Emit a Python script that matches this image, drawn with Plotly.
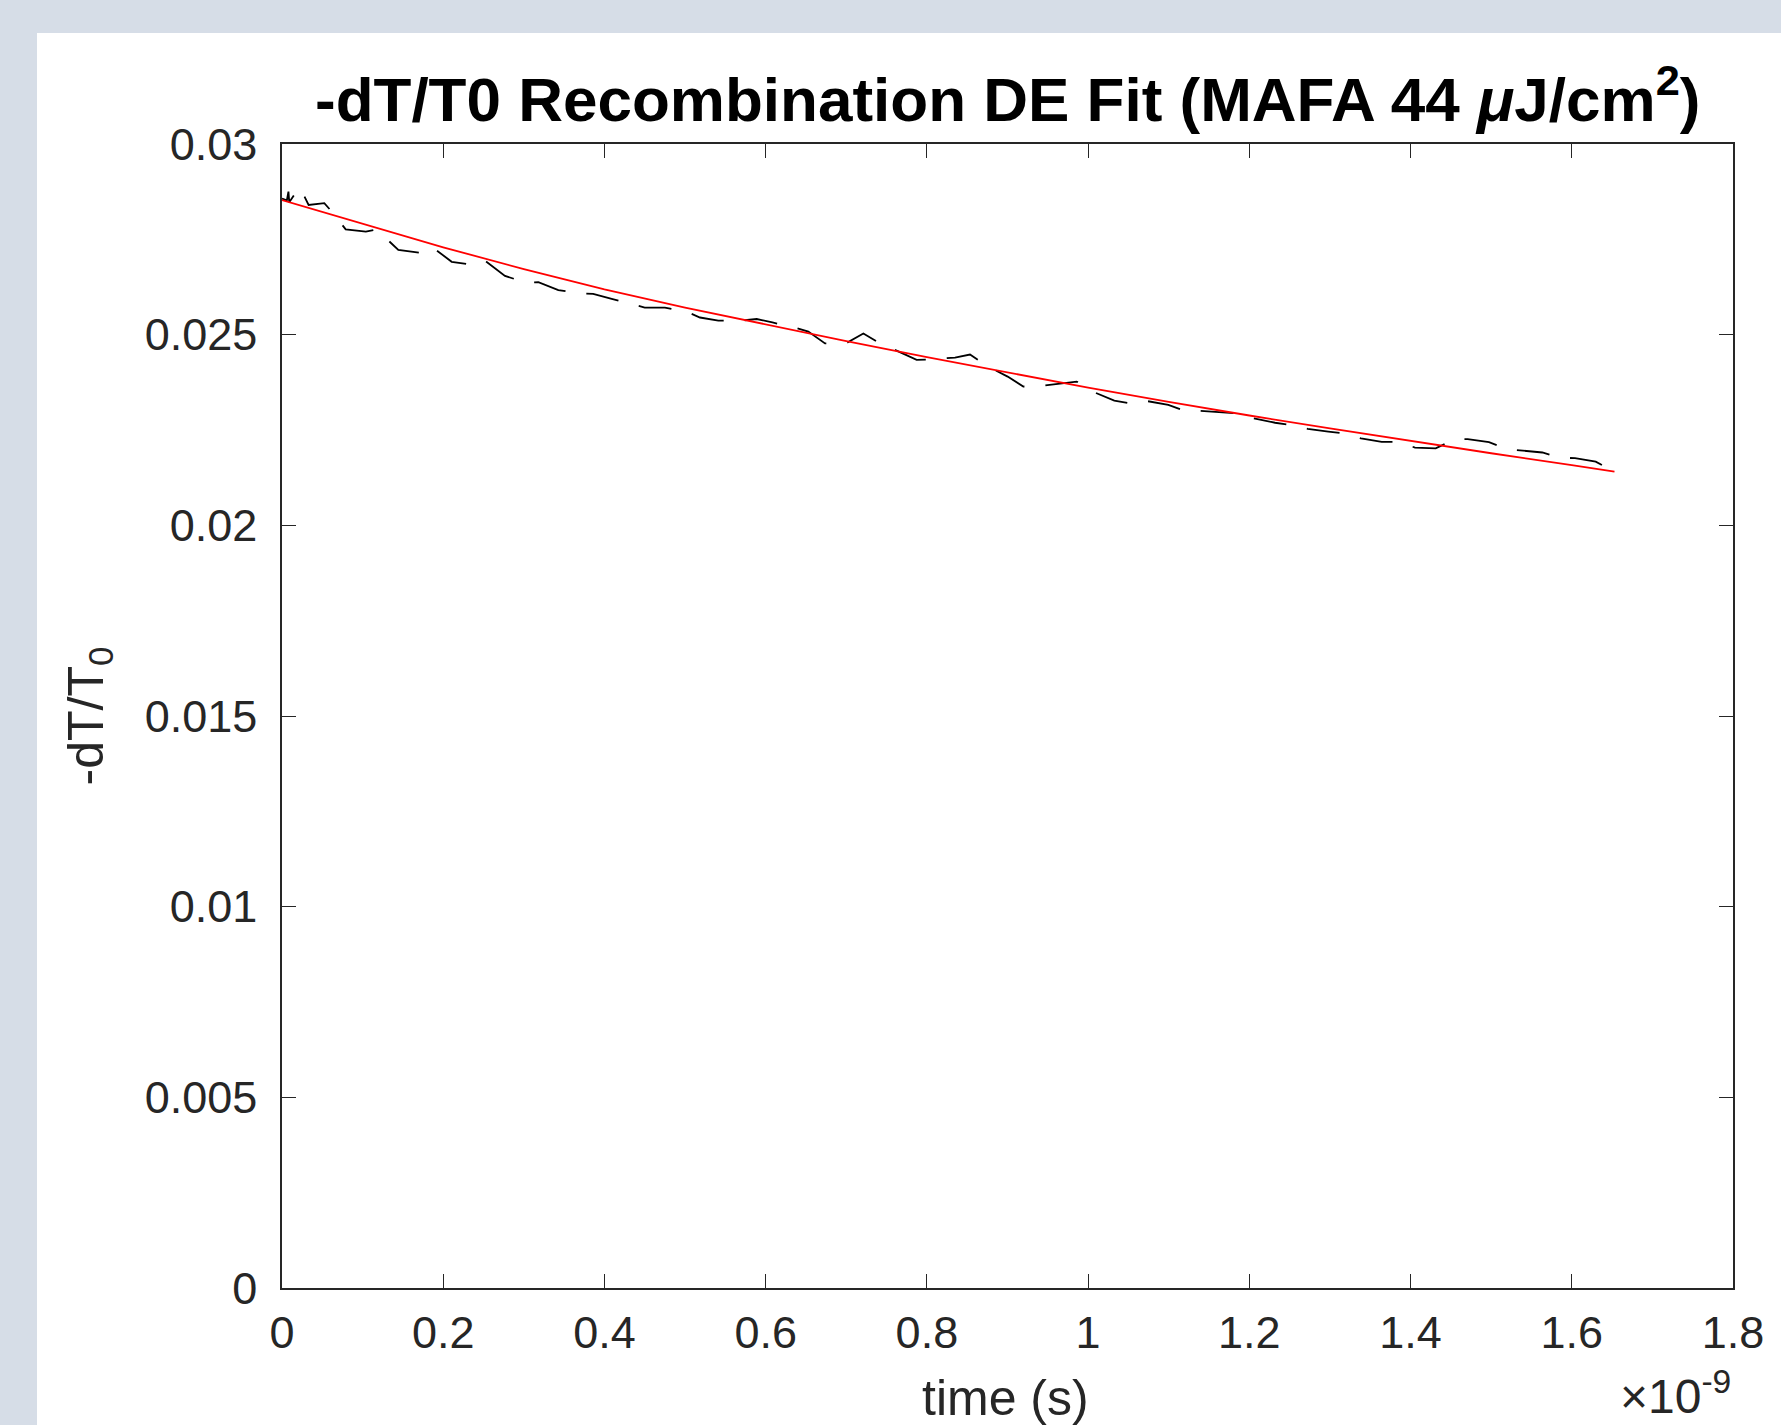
import numpy as np
import plotly.graph_objects as go

# ---------------- data ----------------
time_ns_data = [0.000, 0.006, 0.008, 0.009, 0.015, 0.019, 0.024, 0.027, 0.033, 0.0525,
                0.0637, 0.070, 0.079, 0.104, 0.1175, 0.1443, 0.170, 0.1857, 0.2105, 0.236,
                0.2518, 0.2766, 0.3035, 0.318, 0.3428, 0.3697, 0.386, 0.409, 0.4358, 0.450,
                0.475, 0.502, 0.5185, 0.5413, 0.5703, 0.5889, 0.6083, 0.6352, 0.6529, 0.6736,
                0.7018, 0.7212, 0.7406, 0.7679, 0.7873, 0.8051, 0.8349, 0.8535, 0.873, 0.9002,
                0.9196, 0.9403, 0.9672, 0.9858, 1.0065, 1.0325, 1.052, 1.0727, 1.0995, 1.1202,
                1.1388, 1.1657, 1.1843, 1.205, 1.2319, 1.2525, 1.2724, 1.298, 1.3187, 1.3385,
                1.3642, 1.3849, 1.4055, 1.4312, 1.4552, 1.4709, 1.4973, 1.5192, 1.5379, 1.5635,
                1.5834, 1.604, 1.6297, 1.6528]
dT_data = [0.02857, 0.02852, 0.02875, 0.02847, 0.02866, 0.02846, 0.02864, 0.02866, 0.02840, 0.02845,
           0.02818, 0.02801, 0.02776, 0.02770, 0.02776, 0.02722, 0.02715, 0.02731, 0.02691, 0.02683,
           0.02694, 0.02654, 0.02636, 0.02638, 0.02617, 0.02608, 0.02607, 0.02594, 0.02579, 0.02571,
           0.02571, 0.02560, 0.02545, 0.02537, 0.02537, 0.02541, 0.02532, 0.02519, 0.02508, 0.02477,
           0.02480, 0.02503, 0.02479, 0.02453, 0.02434, 0.02435, 0.02440, 0.02448, 0.02420, 0.02390,
           0.02364, 0.02365, 0.02371, 0.02377, 0.02350, 0.02327, 0.02320, 0.02326, 0.02316, 0.02300,
           0.02300, 0.02296, 0.02294, 0.02281, 0.02269, 0.02263, 0.02253, 0.02246, 0.02241, 0.02228,
           0.02219, 0.02219, 0.02204, 0.02202, 0.02226, 0.02226, 0.02218, 0.02200, 0.02196, 0.02191,
           0.02178, 0.02176, 0.02167, 0.02141]

time_ns_fit = [0.0, 0.1, 0.2, 0.3, 0.4, 0.5, 0.6, 0.7, 0.8, 0.9,
               1.0, 1.1, 1.2, 1.3, 1.4, 1.5, 1.6, 1.653]
dT_fit = [0.02853, 0.02790, 0.02729, 0.02672, 0.02619, 0.02571, 0.02526, 0.02483, 0.02441, 0.02400,
          0.02361, 0.02324, 0.02288, 0.02254, 0.02221, 0.02189, 0.02158, 0.02141]

x_tick_ns = [0, 0.2, 0.4, 0.6, 0.8, 1.0, 1.2, 1.4, 1.6, 1.8]
x_tick_text = ["0", "0.2", "0.4", "0.6", "0.8", "1", "1.2", "1.4", "1.6", "1.8"]
y_tick_vals = [0, 0.005, 0.01, 0.015, 0.02, 0.025, 0.03]
y_tick_text = ["0", "0.005", "0.01", "0.015", "0.02", "0.025", "0.03"]

# ---------------- figure ----------------
W, H = 1781, 1425
L, R, T, B = 282, 1733, 144, 1288
pw, ph = R - L, B - T

def px_x(p):
    return (p - L) / pw

def px_y(p):
    return (B - p) / ph

FONT = "Liberation Sans, Arial, Helvetica, sans-serif"
AX = "#262626"

fig = go.Figure()
fig.add_trace(go.Scatter(
    x=np.array(time_ns_data) * 1e-9, y=dT_data, mode="lines",
    line=dict(color="#000000", width=1.8, dash="33px,21px"), showlegend=False))
fig.add_trace(go.Scatter(
    x=np.array(time_ns_fit) * 1e-9, y=dT_fit, mode="lines",
    line=dict(color="#ff0000", width=1.8), showlegend=False))

axis_common = dict(showline=True, linecolor=AX, linewidth=1.5, mirror="ticks",
                   ticks="inside", ticklen=14, tickwidth=1.3, tickcolor=AX,
                   showgrid=False, zeroline=False,
                   tickfont=dict(family=FONT, size=45, color=AX))

fig.update_xaxes(range=[0, 1.8e-9], tickvals=[v * 1e-9 for v in x_tick_ns],
                 ticktext=x_tick_text, ticklabelstandoff=4, **axis_common)
fig.update_yaxes(range=[0, 0.03], tickvals=y_tick_vals, ticktext=y_tick_text,
                 ticklabelstandoff=14, **axis_common)

shapes = [dict(type="rect", xref="paper", yref="paper", layer="below",
               x0=px_x(37), x1=px_x(W + 5), y0=px_y(H + 5), y1=px_y(33),
               fillcolor="white", line=dict(width=0))]

annotations = [
    dict(text="<b>-dT/T0 Recombination DE Fit (MAFA 44 <i>μ</i>J/cm<sup>2</sup>)</b>",
         xref="paper", yref="paper", x=0.5, y=px_y(136), xanchor="center", yanchor="bottom",
         showarrow=False, font=dict(family=FONT, size=62, color="black")),
    dict(text="time (s)", xref="paper", yref="paper", x=px_x(1005), y=px_y(1428),
         xanchor="center", yanchor="bottom", showarrow=False,
         font=dict(family=FONT, size=50, color=AX)),
    dict(text="×10<sup>-9</sup>", xref="paper", yref="paper", x=px_x(1733), y=px_y(1425),
         xanchor="right", yanchor="bottom", showarrow=False,
         font=dict(family=FONT, size=48, color=AX)),
    dict(text="-dT/T<sub>0</sub>", xref="paper", yref="paper", x=px_x(55), y=0.5,
         xanchor="left", yanchor="middle", textangle=-90, showarrow=False,
         font=dict(family=FONT, size=50, color=AX)),
]

fig.update_layout(width=W, height=H, margin=dict(l=L, r=W - R, t=T, b=H - B, autoexpand=False),
                  paper_bgcolor="#d6dde7", plot_bgcolor="white",
                  shapes=shapes, annotations=annotations, showlegend=False)

fig.write_html("out.html", config={"displayModeBar": False},
               post_script="document.body.style.margin='0';document.body.style.overflow='hidden';")
